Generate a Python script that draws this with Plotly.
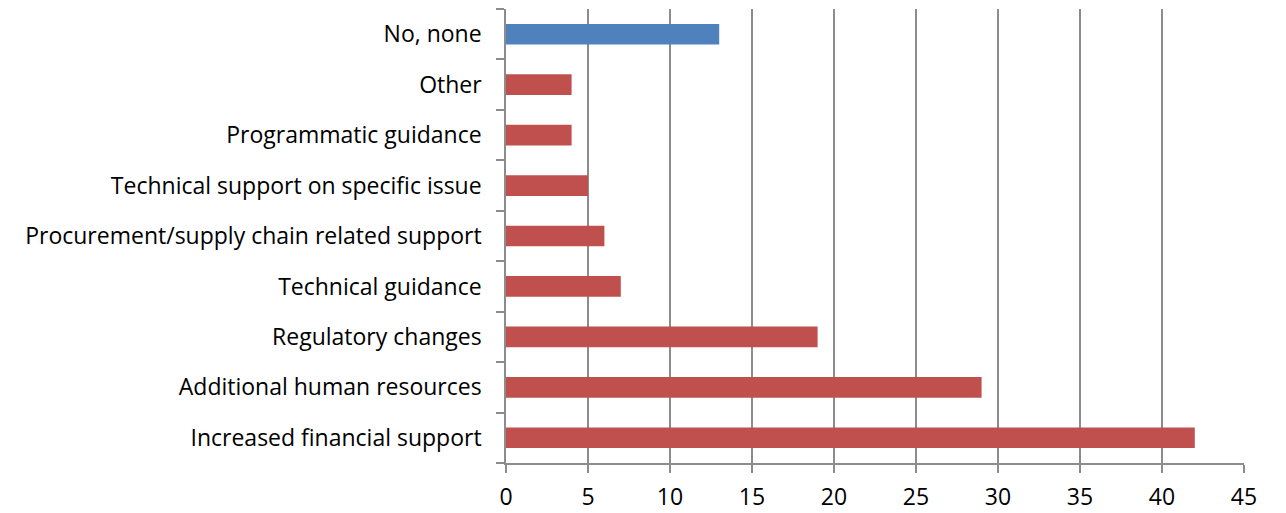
import plotly.graph_objects as go

categories = ["Increased financial support", "Additional human resources", "Regulatory changes",
              "Technical guidance", "Procurement/supply chain related support",
              "Technical support on specific issue", "Programmatic guidance", "Other", "No, none"]
values = [42, 29, 19, 7, 6, 5, 4, 4, 13]
colors = ["#C0504D"] * 8 + ["#4F81BD"]
x_ticks = [0, 5, 10, 15, 20, 25, 30, 35, 40, 45]

fig = go.Figure(go.Bar(
    y=categories, x=values, orientation="h",
    marker=dict(color=colors, line=dict(width=0)),
))

fig.update_layout(
    width=1286, height=513,
    margin=dict(l=498, r=50, t=1, b=58),
    paper_bgcolor="white", plot_bgcolor="white",
    bargap=0.59,
    showlegend=False,
    font=dict(family="Open Sans", size=23, color="#000000"),
)
fig.update_xaxes(
    range=[0, 45], tickvals=x_ticks, showgrid=True, gridcolor="#8C8C8C", gridwidth=1.5,
    showline=True, linecolor="#8C8C8C", linewidth=1.5,
    ticks="outside", ticklen=8, tickcolor="#8C8C8C", tickwidth=1.5,
    zeroline=False, tickfont=dict(size=23), ticklabelstandoff=5,
)
fig.update_yaxes(
    categoryorder="array", categoryarray=categories,
    showline=True, linecolor="#8C8C8C", linewidth=1.5,
    ticks="outside", ticklen=8, tickcolor="#8C8C8C", tickwidth=1.5, tickson="boundaries",
    showgrid=False, ticklabelstandoff=18,
)

fig.write_html("out.html")
